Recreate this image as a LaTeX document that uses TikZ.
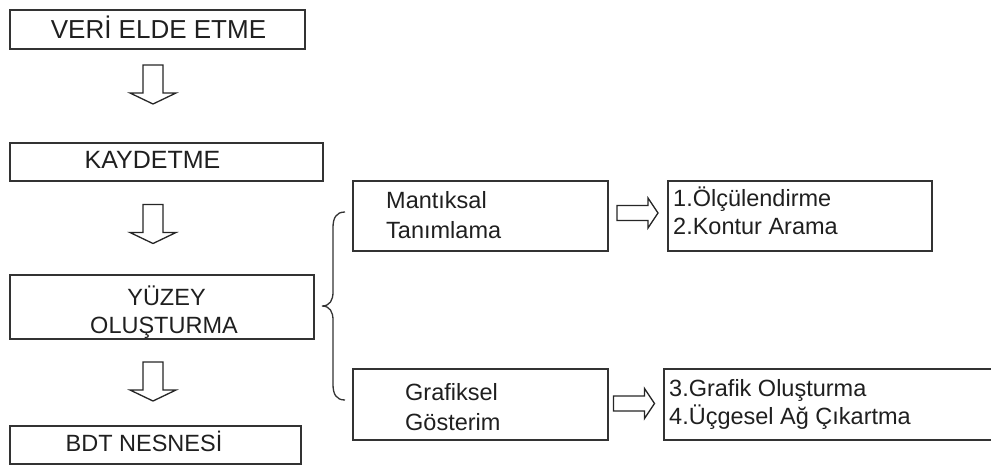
\documentclass[tikz,border=0pt]{standalone}
\usepackage{fontspec}
\setmainfont{Liberation Sans}

\begin{document}
\begin{tikzpicture}[x=1pt,y=-1pt,
  box/.style={draw=black!80, line width=1.7pt, rectangle, inner sep=0pt, anchor=north west},
  lbl/.style={text=black!88, font=\fontsize{23.5}{28}\selectfont, inner sep=0pt},
  biglbl/.style={lbl, font=\fontsize{26}{30}\selectfont},
  midlbl/.style={lbl, font=\fontsize{25}{30}\selectfont},
  blockline/.style={draw=black!85, line width=1.3pt, line join=miter, fill=white},
  pics/downblock/.style={code={
    \path[blockline] (-10,-19.5) -- (10,-19.5) -- (10,8.5) -- (23,8.5) -- (0,19.5)
      -- (-23,8.5) -- (-10,8.5) -- cycle;
  }},
  pics/rightblock/.style={code={
    \path[blockline] (-20.5,-7.5) -- (10.5,-7.5) -- (10.5,-15) -- (20.5,0)
      -- (10.5,15) -- (10.5,7.5) -- (-20.5,7.5) -- cycle;
  }}
]
\useasboundingbox (0,0) rectangle (991,467);

% left column: processing steps
\node[box, minimum width=295pt, minimum height=39pt] (veri) at (9,9) {};
\node[box, minimum width=313pt, minimum height=38pt] (kayit) at (9,142) {};
\node[box, minimum width=304pt, minimum height=64pt] (yuzey) at (9,274) {};
\node[box, minimum width=291pt, minimum height=38pt] (bdt) at (9,425) {};

\node[biglbl, anchor=base] (tveri) at (158.5,38.5) {VERİ ELDE ETME};
\node[midlbl, anchor=base] (tkayit) at (152.5,168.5) {KAYDETME};
\node[lbl, anchor=base] (tyuz1) at (166.5,305) {YÜZEY};
\node[lbl, anchor=base] (tyuz2) at (164,333) {OLUŞTURMA};
\node[lbl, anchor=base] (tbdt) at (144,451) {BDT NESNESİ};

% hollow arrows between the steps
\pic (d1) at (153,84.5) {downblock};
\pic (d2) at (153,224) {downblock};
\pic (d3) at (153,381.5) {downblock};

% right part: the two branches
\node[box, minimum width=255pt, minimum height=70pt] (mant) at (352,180) {};
\node[box, minimum width=255pt, minimum height=71pt] (graf) at (352,368) {};
\node[box, minimum width=264pt, minimum height=70pt] (olcu) at (667,180) {};
\node[box, minimum width=340pt, minimum height=71pt] (ucg) at (663,368) {};

\node[lbl, anchor=base west] (tm1) at (386,208) {Mantıksal};
\node[lbl, anchor=base west] (tm2) at (386,238) {Tanımlama};
\node[lbl, anchor=base west] (tg1) at (405,400) {Grafiksel};
\node[lbl, anchor=base west] (tg2) at (405,430) {Gösterim};
\node[lbl, anchor=base west] (to1) at (673,206) {1.Ölçülendirme};
\node[lbl, anchor=base west] (to2) at (673,234) {2.Kontur Arama};
\node[lbl, anchor=base west] (tu1) at (669,396) {3.Grafik Oluşturma};
\node[lbl, anchor=base west] (tu2) at (669,424) {4.Üçgesel Ağ Çıkartma};

\pic (r1) at (637.5,213) {rightblock};
\pic (r2) at (634,403.5) {rightblock};

% curly brace joining the surface step to both branches
\coordinate (braceTop) at (345,212);
\coordinate (braceTip) at (322,306);
\coordinate (braceBot) at (345,400);
\draw[black!80, line width=1.3pt]
  (braceTop) .. controls (336,212) and (333,218) .. (333,228)
  -- (333,292) .. controls (333,300) and (330,306) .. (braceTip)
  .. controls (330,306) and (333,312) .. (333,320)
  -- (333,384) .. controls (333,394) and (336,400) .. (braceBot);
\end{tikzpicture}
\end{document}
